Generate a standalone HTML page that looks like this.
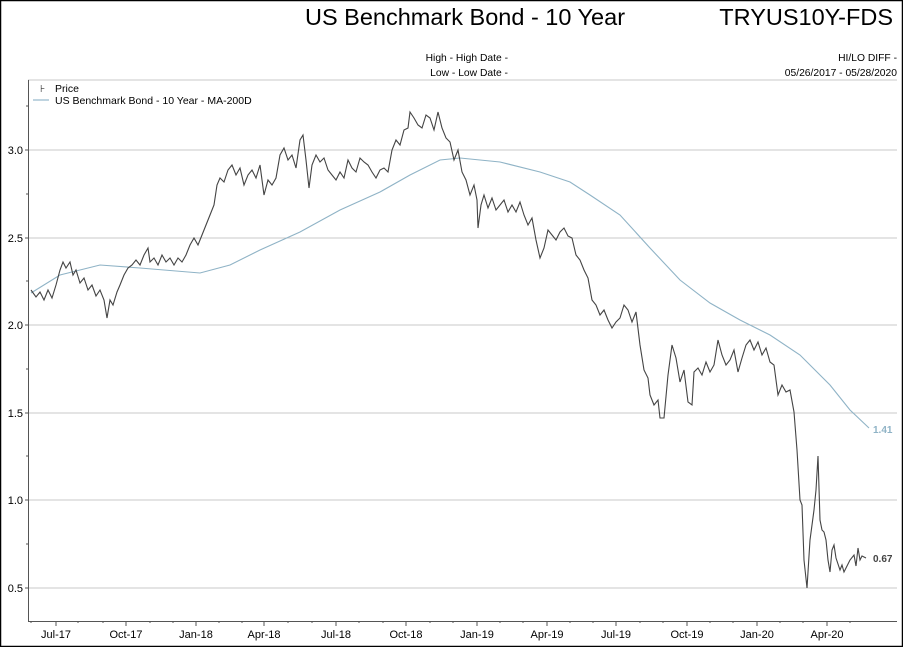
<!DOCTYPE html>
<html><head><meta charset="utf-8"><style>
body{margin:0;background:#fff}
svg{display:block;font-family:"Liberation Sans",Arial,sans-serif}
</style></head><body>
<svg width="903" height="647" viewBox="0 0 903 647" xmlns="http://www.w3.org/2000/svg">
<rect x="0.5" y="0.5" width="902" height="646" fill="#fff" stroke="#000" stroke-width="1.5"/>
<text x="465" y="25" font-size="23.5" text-anchor="middle" fill="#000">US Benchmark Bond - 10 Year</text>
<text x="893" y="25" font-size="23.5" text-anchor="end" fill="#000">TRYUS10Y-FDS</text>
<g font-size="10.3" fill="#000">
<text x="508" y="61" text-anchor="end">High - High Date -</text>
<text x="508" y="76" text-anchor="end">Low - Low Date -</text>
<text x="897" y="61" text-anchor="end">HI/LO DIFF -</text>
<text x="897" y="76" text-anchor="end">05/26/2017 - 05/28/2020</text>
</g>
<line x1="28" y1="80" x2="897" y2="80" stroke="#c8c8c8"/>
<g stroke="#c8c8c8">
<line x1="28" y1="150" x2="897" y2="150"/><line x1="28" y1="238" x2="897" y2="238"/>
<line x1="28" y1="325" x2="897" y2="325"/><line x1="28" y1="413" x2="897" y2="413"/>
<line x1="28" y1="500" x2="897" y2="500"/><line x1="28" y1="588" x2="897" y2="588"/>
</g>
<line x1="28.5" y1="80" x2="28.5" y2="621" stroke="#555"/>
<line x1="28" y1="621.5" x2="897" y2="621.5" stroke="#555"/>
<g stroke="#555">
<line x1="25" y1="150" x2="28" y2="150"/><line x1="25" y1="238" x2="28" y2="238"/><line x1="25" y1="325" x2="28" y2="325"/><line x1="25" y1="413" x2="28" y2="413"/><line x1="25" y1="500" x2="28" y2="500"/><line x1="25" y1="588" x2="28" y2="588"/>
<line x1="26" y1="106" x2="28" y2="106"/><line x1="26" y1="194" x2="28" y2="194"/><line x1="26" y1="281" x2="28" y2="281"/><line x1="26" y1="369" x2="28" y2="369"/><line x1="26" y1="456" x2="28" y2="456"/><line x1="26" y1="544" x2="28" y2="544"/>
<line x1="56" y1="621" x2="56" y2="626"/><line x1="126" y1="621" x2="126" y2="626"/><line x1="196" y1="621" x2="196" y2="626"/><line x1="264" y1="621" x2="264" y2="626"/><line x1="336" y1="621" x2="336" y2="626"/><line x1="406" y1="621" x2="406" y2="626"/><line x1="477" y1="621" x2="477" y2="626"/><line x1="547" y1="621" x2="547" y2="626"/><line x1="616" y1="621" x2="616" y2="626"/><line x1="687" y1="621" x2="687" y2="626"/><line x1="757" y1="621" x2="757" y2="626"/><line x1="827" y1="621" x2="827" y2="626"/>
<line x1="31" y1="621" x2="31" y2="623"/><line x1="78" y1="621" x2="78" y2="623"/><line x1="103" y1="621" x2="103" y2="623"/><line x1="150" y1="621" x2="150" y2="623"/><line x1="173" y1="621" x2="173" y2="623"/><line x1="219" y1="621" x2="219" y2="623"/><line x1="242" y1="621" x2="242" y2="623"/><line x1="288" y1="621" x2="288" y2="623"/><line x1="312" y1="621" x2="312" y2="623"/><line x1="359" y1="621" x2="359" y2="623"/><line x1="383" y1="621" x2="383" y2="623"/><line x1="430" y1="621" x2="430" y2="623"/><line x1="453" y1="621" x2="453" y2="623"/><line x1="500" y1="621" x2="500" y2="623"/><line x1="523" y1="621" x2="523" y2="623"/><line x1="570" y1="621" x2="570" y2="623"/><line x1="593" y1="621" x2="593" y2="623"/><line x1="640" y1="621" x2="640" y2="623"/><line x1="663" y1="621" x2="663" y2="623"/><line x1="710" y1="621" x2="710" y2="623"/><line x1="733" y1="621" x2="733" y2="623"/><line x1="780" y1="621" x2="780" y2="623"/><line x1="803" y1="621" x2="803" y2="623"/><line x1="850" y1="621" x2="850" y2="623"/>
</g>
<g font-size="11" fill="#000" text-anchor="end">
<text x="23" y="154">3.0</text><text x="23" y="242">2.5</text><text x="23" y="329">2.0</text><text x="23" y="417">1.5</text><text x="23" y="504">1.0</text><text x="23" y="592">0.5</text>
</g>
<g font-size="11" fill="#000" text-anchor="middle">
<text x="56" y="638">Jul-17</text><text x="126" y="638">Oct-17</text><text x="196" y="638">Jan-18</text><text x="264" y="638">Apr-18</text><text x="336" y="638">Jul-18</text><text x="406" y="638">Oct-18</text><text x="477" y="638">Jan-19</text><text x="547" y="638">Apr-19</text><text x="616" y="638">Jul-19</text><text x="687" y="638">Oct-19</text><text x="757" y="638">Jan-20</text><text x="827" y="638">Apr-20</text>
</g>
<text x="40" y="92" font-size="10" fill="#333">⊦</text>
<text x="55" y="92" font-size="10.5" fill="#000">Price</text>
<line x1="33" y1="100" x2="49" y2="100" stroke="#7fa9c0"/>
<text x="55" y="104" font-size="10.5" fill="#000">US Benchmark Bond - 10 Year - MA-200D</text>
<polyline fill="none" stroke="#8fb3c6" stroke-width="1.1" points="31,293 60,275 100,265 140,268 200,273 230,265 260,250 300,232 340,210 380,192 410,175 440,160 460,158 500,162 540,172 570,182 590,195 620,215 650,248 680,280 710,303 740,320 770,335 800,355 830,385 850,410 869,428"/>
<polyline fill="none" stroke="#444" stroke-width="1.1" points="31,290 36,297 40,292 44,300 48,290 52,298 56,285 60,270 63,262 66,268 70,262 73,275 76,270 80,283 84,278 88,290 92,285 96,296 100,290 104,300 107,318 110,300 113,305 117,292 120,285 124,275 128,268 132,265 136,260 140,265 144,255 148,248 150,262 154,258 158,265 162,255 166,262 170,258 174,265 178,258 182,262 186,255 190,245 194,238 198,245 202,235 206,225 210,215 214,205 217,185 220,178 224,182 228,170 232,165 236,175 240,168 244,185 248,175 252,170 256,178 260,165 264,195 268,180 272,185 276,178 280,155 284,148 288,160 292,155 296,168 300,140 303,135 306,160 309,188 312,165 316,155 320,162 324,158 328,170 332,175 336,180 340,172 344,178 348,160 352,168 356,172 360,158 364,162 368,165 372,172 376,178 380,170 384,168 388,172 392,150 396,140 400,145 404,130 408,128 410,112 414,118 418,125 422,128 426,115 430,118 434,130 438,112 442,128 446,138 450,142 454,160 458,150 462,172 466,180 470,195 474,185 477,200 478,228 481,205 484,195 488,208 492,198 496,210 500,205 504,200 508,212 512,205 516,212 520,202 524,215 528,225 532,218 536,240 540,258 544,248 548,230 552,235 556,240 560,232 564,228 568,236 572,238 576,255 580,260 584,270 588,278 592,300 596,305 600,315 604,310 608,320 612,328 616,322 620,318 624,305 628,310 632,322 636,312 640,345 644,370 648,378 650,395 654,405 658,400 660,418 664,418 668,375 672,345 676,358 680,382 684,370 688,402 692,405 694,372 698,368 702,375 706,362 710,372 714,365 718,340 722,355 726,365 730,360 734,350 738,372 742,358 746,345 750,340 754,350 758,342 762,355 766,348 770,362 774,365 778,395 782,385 786,392 790,390 794,412 797,450 800,500 802,505 804,560 807,588 810,540 814,510 816,490 818,456 820,520 822,530 824,532 826,540 828,560 830,572 832,550 834,545 836,558 840,570 842,565 844,572 846,568 850,560 854,555 856,566 858,548 860,560 862,556 866,558"/>
<text x="873" y="433" font-size="10" font-weight="bold" fill="#8fb3c6">1.41</text>
<text x="873" y="562" font-size="10" font-weight="bold" fill="#444">0.67</text>
</svg>
</body></html>
